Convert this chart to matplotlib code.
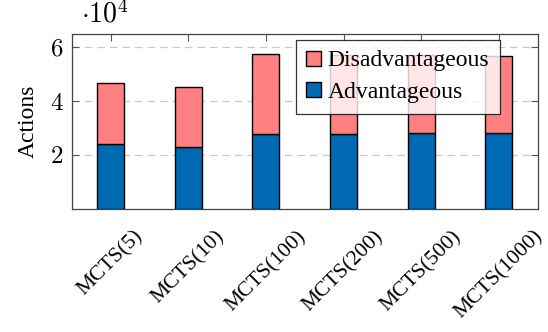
import numpy as np
import matplotlib
matplotlib.use('Agg')
import matplotlib.pyplot as plt

plt.rcParams['font.family'] = ['Liberation Serif', 'DejaVu Serif']
plt.rcParams['mathtext.fontset'] = 'cm'

# data
labels = ['MCTS(5)', 'MCTS(10)', 'MCTS(100)', 'MCTS(200)', 'MCTS(500)', 'MCTS(1000)']
advantageous = [24000, 22900, 27700, 27800, 28200, 28200]
disadvantageous = [22700, 22200, 29900, 29400, 29000, 28600]
ytick_vals = [20000, 40000, 60000]
ytick_labels = ['$2$', '$4$', '$6$']

blue = '#0069b4'
pink = '#ff8080'

fig = plt.figure(figsize=(5.48, 3.32), dpi=100)
ax = fig.add_axes([0.131, 0.371, 0.85, 0.527])

x = np.arange(len(labels))
w = 0.345
ax.bar(x, advantageous, w, color=blue, edgecolor='black', linewidth=1.0,
       label='Advantageous', zorder=3)
ax.bar(x, disadvantageous, w, bottom=advantageous, color=pink, edgecolor='black',
       linewidth=1.0, label='Disadvantageous', zorder=3)

ax.set_xlim(-0.5, 5.5)
ax.set_ylim(0, 65000)
ax.set_xticks(x)
ax.set_xticklabels(labels, rotation=45, fontsize=15.5)
ax.set_yticks(ytick_vals)
ax.set_yticklabels(ytick_labels, fontsize=18)
ax.tick_params(axis='both', direction='in', top=True, right=True, length=5,
               width=0.8, color='#555555')
ax.tick_params(axis='x', pad=13)
ax.tick_params(axis='y', pad=6)
ax.yaxis.grid(True, linestyle=(0, (6, 4)), color='#c8c8c8', linewidth=0.9, zorder=0)
ax.set_axisbelow(True)
for s in ax.spines.values():
    s.set_color('#444444')
    s.set_linewidth(0.9)

ax.set_ylabel('Actions', fontsize=17, labelpad=8)
ax.text(0.02, 1.03, r'$\cdot 10^4$', transform=ax.transAxes, fontsize=20,
        ha='left', va='bottom')

h, l = ax.get_legend_handles_labels()
leg = ax.legend(h[::-1], l[::-1], loc='upper left', bbox_to_anchor=(0.481, 0.966),
                borderaxespad=0, fontsize=17, frameon=True, fancybox=False,
                edgecolor='black', framealpha=0.8, handlelength=0.6,
                handleheight=0.6, handletextpad=0.3, borderpad=0.45,
                labelspacing=0.45)
leg.get_frame().set_linewidth(0.9)
leg.set_zorder(5)

fig.savefig('out.png', dpi=100)
